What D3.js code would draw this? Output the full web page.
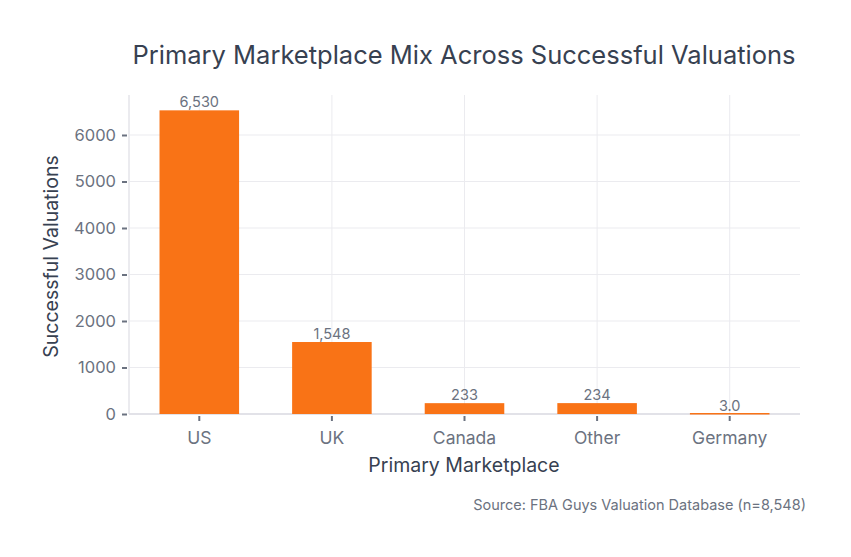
<!DOCTYPE html>
<html>
<head>
<meta charset="utf-8">
<script src="https://cdn.jsdelivr.net/npm/d3@7"></script>
<style>
  html, body { margin: 0; padding: 0; background: #fff; }
  svg { display: block; font-family: Inter, "Liberation Sans", Arial, sans-serif; }
</style>
</head>
<body>
<div id="chart"></div>
<script>
// data
const markets = ["US", "UK", "Canada", "Other", "Germany"];
const valuations = [6530, 1548, 233, 234, 3];
const barLabels = ["6,530", "1,548", "233", "234", "3.0"];
const yTicks = [0, 1000, 2000, 3000, 4000, 5000, 6000];

const width = 851, height = 557;
const margin = {top: 95, right: 51, bottom: 143, left: 129};
const font = "Inter, Liberation Sans, Arial, sans-serif";

const data = markets.map((m, i) => ({market: m, value: valuations[i], label: barLabels[i]}));

const svg = d3.select("#chart").append("svg")
    .attr("width", width)
    .attr("height", height)
    .attr("viewBox", [0, 0, width, height]);

const x = d3.scaleBand()
    .domain(markets)
    .range([133, 796])
    .paddingInner(0.4)
    .paddingOuter(0.2);

const y = d3.scaleLinear()
    .domain([0, 6860])
    .range([height - margin.bottom, margin.top]);

const gridColor = "#ebebef";
const tickColor = "#6b7280";

// gridlines
svg.append("g")
  .selectAll("line.h")
  .data(yTicks.slice(1))
  .join("line")
    .attr("x1", margin.left).attr("x2", width - margin.right)
    .attr("y1", d => y(d)).attr("y2", d => y(d))
    .attr("stroke", gridColor).attr("stroke-width", 1);

svg.append("g")
  .selectAll("line.v")
  .data(markets)
  .join("line")
    .attr("x1", d => x(d) + x.bandwidth() / 2).attr("x2", d => x(d) + x.bandwidth() / 2)
    .attr("y1", margin.top).attr("y2", y(0))
    .attr("stroke", gridColor).attr("stroke-width", 1);

// left axis line
svg.append("line")
    .attr("x1", margin.left).attr("x2", margin.left)
    .attr("y1", margin.top).attr("y2", y(0))
    .attr("stroke", gridColor).attr("stroke-width", 2);

// bottom axis line
svg.append("line")
    .attr("x1", margin.left).attr("x2", width - margin.right)
    .attr("y1", y(0)).attr("y2", y(0))
    .attr("stroke", "#e2e2e8").attr("stroke-width", 2);

// bars (tiny values still get a hairline, like the original)
svg.append("g")
  .selectAll("rect")
  .data(data)
  .join("rect")
    .attr("x", d => x(d.market))
    .attr("y", d => Math.min(y(d.value), y(0) - 1))
    .attr("width", x.bandwidth())
    .attr("height", d => Math.max(1.5, y(0) - y(d.value)))
    .attr("fill", "#f97316");

// bar labels
svg.append("g")
  .selectAll("text")
  .data(data)
  .join("text")
    .attr("x", d => x(d.market) + x.bandwidth() / 2)
    .attr("y", d => y(d.value) - 3)
    .attr("text-anchor", "middle")
    .attr("font-size", 14.5)
    .attr("fill", "#6b7280")
    .text(d => d.label);

// y axis
const yAxis = d3.axisLeft(y).tickValues(yTicks).tickSize(5).tickPadding(6).tickFormat(d3.format("d"));
svg.append("g")
    .attr("transform", `translate(${margin.left - 2},0)`)
    .call(yAxis)
    .call(g => g.select(".domain").remove())
    .call(g => g.selectAll(".tick line").attr("stroke", tickColor).attr("stroke-width", 2))
    .call(g => g.selectAll(".tick text").attr("fill", tickColor).attr("font-size", 16.5)
      .attr("font-family", font));

// x axis
const xAxis = d3.axisBottom(x).tickSize(5).tickPadding(11);
svg.append("g")
    .attr("transform", `translate(0,${y(0) + 2})`)
    .call(xAxis)
    .call(g => g.select(".domain").remove())
    .call(g => g.selectAll(".tick line").attr("stroke", tickColor).attr("stroke-width", 2))
    .call(g => g.selectAll(".tick text").attr("fill", tickColor).attr("font-size", 17.5)
      .attr("font-family", font));

// titles
svg.append("text")
    .attr("x", 464).attr("y", 64)
    .attr("text-anchor", "middle")
    .attr("font-size", 25.5)
    .attr("fill", "#374151")
    .text("Primary Marketplace Mix Across Successful Valuations");

svg.append("text")
    .attr("x", 464).attr("y", 472)
    .attr("text-anchor", "middle")
    .attr("font-size", 19.5)
    .attr("fill", "#374151")
    .text("Primary Marketplace");

svg.append("text")
    .attr("transform", `translate(58,${(margin.top + y(0)) / 2 + 2}) rotate(-90)`)
    .attr("text-anchor", "middle")
    .attr("font-size", 19.5)
    .attr("fill", "#374151")
    .text("Successful Valuations");

svg.append("text")
    .attr("x", 806).attr("y", 510)
    .attr("text-anchor", "end")
    .attr("font-size", 14.5)
    .attr("fill", "#6b7280")
    .text("Source: FBA Guys Valuation Database (n=8,548)");
</script>
</body>
</html>
